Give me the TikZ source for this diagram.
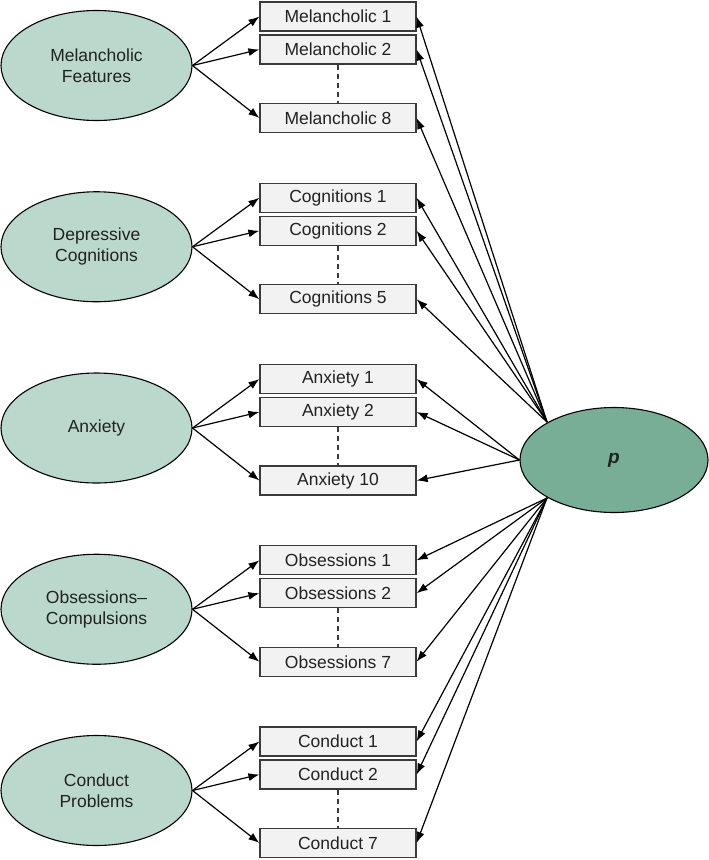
\documentclass[tikz,border=0pt]{standalone}
\usepackage{fontspec}
\setmainfont{Liberation Sans}
\usetikzlibrary{shapes.geometric,arrows.meta}
\definecolor{latfill}{HTML}{BAD8CB}
\definecolor{pfill}{HTML}{78AE96}
\definecolor{boxfill}{HTML}{F2F2F2}
\definecolor{boxdraw}{HTML}{3A3A3A}
\definecolor{txt}{HTML}{222222}
\begin{document}
\begin{tikzpicture}[x=1pt,y=-1pt,
  lat/.style={ellipse,draw=black,line width=1.1pt,fill=latfill,text=txt,minimum width=191pt,minimum height=110pt,inner sep=0pt,align=center,font=\fontsize{17.5}{21}\selectfont},
  gen/.style={ellipse,draw=black,line width=1.1pt,fill=pfill,text=txt,minimum width=188pt,minimum height=105pt,inner sep=0pt,font=\fontsize{19}{22}\selectfont\bfseries\itshape},
  ind/.style={rectangle,draw=boxdraw,line width=1.2pt,fill=boxfill,text=txt,minimum width=156pt,minimum height=29pt,inner sep=0pt,font=\fontsize{17.5}{20}\selectfont},
  arr/.style={line width=1.2pt,-{Latex[length=11pt,width=8pt]}},
  dsh/.style={line width=1.2pt,dash pattern=on 5pt off 4pt,draw=boxdraw}]
\useasboundingbox (0,0) rectangle (709,860);
\node[gen] (p) at (614,460) {p};
\coordinate (pU) at (547,422);
\coordinate (pL) at (547,498);
\foreach \k/\ename/\item/\last/\src in {0/{Melancholic\\Features}/Melancholic/8/pU,
  1/{Depressive\\Cognitions}/Cognitions/5/pU,
  2/Anxiety/Anxiety/10/p.west,
  3/{Obsessions--\\Compulsions}/Obsessions/7/pL,
  4/{Conduct\\Problems}/Conduct/7/pL}{
  \pgfmathsetmacro{\yz}{16.5+181.25*\k}
  \node[ind] (g\k a) at (338,\yz) {\item\ 1};
  \node[ind] (g\k b) at (338,\yz+33) {\item\ 2};
  \node[ind] (g\k c) at (338,\yz+101.5) {\item\ \last};
  \node[lat] (g\k e) at (96.5,\yz+49) {\ename};
  \draw[dsh] (g\k b.south) -- (g\k c.north);
  \draw[arr] (g\k e.east) -- (g\k a.west);
  \draw[arr] (g\k e.east) -- (g\k b.west);
  \draw[arr] (g\k e.east) -- (g\k c.west);
  \draw[arr] (\src) -- (g\k a.east);
  \draw[arr] (\src) -- (g\k b.east);
  \draw[arr] (\src) -- (g\k c.east);
}
\end{tikzpicture}
\end{document}
